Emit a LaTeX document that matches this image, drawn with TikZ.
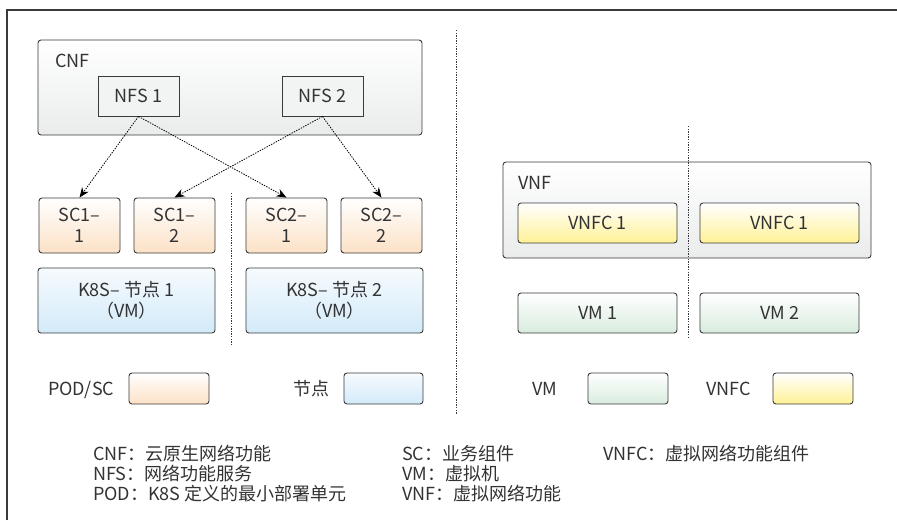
\documentclass[tikz,border=0pt]{standalone}
\usepackage{fontspec}
\setmainfont{Noto Sans CJK SC}
\usetikzlibrary{arrows.meta}
\definecolor{ink}{HTML}{333333}
\definecolor{edge}{HTML}{3A3A3A}
\definecolor{grayb}{HTML}{EAECEC}
\definecolor{peach}{HTML}{FCE1C6}
\definecolor{sky}{HTML}{D3EAF9}
\definecolor{lemon}{HTML}{FFF195}
\definecolor{mint}{HTML}{D8ECDE}
\tikzset{
  box/.style={draw=edge, line width=0.9pt, rounded corners=3pt, inner sep=0pt,
    align=center, text=ink, font=\fontsize{18}{21}\selectfont},
  grp/.style={box, top color=white, bottom color=grayb},
  inner/.style={box, fill=grayb!60, rounded corners=0pt},
  pod/.style={box, top color=white, bottom color=peach},
  host/.style={box, top color=white!80!sky, bottom color=sky},
  vnfc/.style={box, top color=white, bottom color=lemon},
  vmb/.style={box, top color=white, bottom color=mint},
  lbl/.style={anchor=base west, inner sep=0pt, text=ink, font=\fontsize{18}{21}\selectfont},
  sep/.style={draw=edge, line width=0.8pt, dash pattern=on 1.4pt off 1.2pt},
  link/.style={draw=black, line width=0.8pt, dash pattern=on 1.4pt off 1.2pt,
    -{Stealth[length=10pt,width=8pt]}},
}
\begin{document}
\begin{tikzpicture}[x=1pt,y=-1pt]
\useasboundingbox (0,0) rectangle (897,520);
% frame
\coordinate (f0) at (7,520);
\coordinate (f1) at (7,10);
\coordinate (f2) at (897,10);
\draw[edge, line width=1.2pt] (f0) -- (f1) -- (f2);
% separators
\coordinate (s1a) at (456,30); \coordinate (s1b) at (456,414);
\coordinate (s2a) at (231,193); \coordinate (s2b) at (231,346);
\coordinate (s3a) at (688,126); \coordinate (s3b) at (688,338);
% CNF side
\node[grp, minimum width=384pt, minimum height=95pt] (cnf) at (230,87.5) {};
\node[lbl] (cnfl) at (55,67) {CNF};
\node[inner, minimum width=81pt, minimum height=40pt] (nfs1) at (138.5,96) {NFS 1};
\node[inner, minimum width=81pt, minimum height=40pt] (nfs2) at (322.5,96) {NFS 2};
\node[pod, minimum width=81pt, minimum height=55pt] (sc11) at (79.5,225.5) {SC1–\\1};
\node[pod, minimum width=81pt, minimum height=55pt] (sc12) at (174.5,225.5) {SC1–\\2};
\node[pod, minimum width=81pt, minimum height=55pt] (sc21) at (286.5,225.5) {SC2–\\1};
\node[pod, minimum width=81pt, minimum height=55pt] (sc22) at (381.5,225.5) {SC2–\\2};
\node[host, minimum width=177pt, minimum height=65pt] (k1) at (126.5,300.5) {K8S– 节点 1\\（VM）};
\node[host, minimum width=177pt, minimum height=65pt] (k2) at (334.5,300.5) {K8S– 节点 2\\（VM）};
\draw[sep] (s2a) -- (s2b);
\path[link] (nfs1.south) -- (sc11.north);
\path[link] (nfs1.south) -- (sc21.north);
\path[link] (nfs2.south) -- (sc12.north);
\path[link] (nfs2.south) -- (sc22.north);
% legend left
\node[lbl] (l1) at (48,395) {POD/SC};
\node[pod, minimum width=80pt, minimum height=31pt] (lb1) at (169,388.5) {};
\node[lbl] (l2) at (293,395) {节点};
\node[host, minimum width=79pt, minimum height=31pt] (lb2) at (383.5,388.5) {};
% VNF side
\node[grp, minimum width=368pt, minimum height=96pt] (vnf) at (687,210) {};
\node[lbl] (vnfl) at (518,189) {VNF};
\node[vnfc, minimum width=159pt, minimum height=40pt] (c1) at (597.5,223) {VNFC 1};
\node[vnfc, minimum width=159pt, minimum height=40pt] (c2) at (779.5,223) {VNFC 1};
\node[vmb, minimum width=159pt, minimum height=40pt] (vm1) at (597.5,313) {VM 1};
\node[vmb, minimum width=159pt, minimum height=40pt] (vm2) at (779.5,313) {VM 2};
\draw[sep] (s3a) -- (s3b);
\node[lbl] (l3) at (532,395) {VM};
\node[vmb, minimum width=80pt, minimum height=31pt] (lb3) at (628,388.5) {};
\node[lbl] (l4) at (706,395) {VNFC};
\node[vnfc, minimum width=80pt, minimum height=31pt] (lb4) at (813,388.5) {};
\draw[sep] (s1a) -- (s1b);
% footnotes
\node[lbl] (n1) at (93,460) {CNF：云原生网络功能};
\node[lbl] (n2) at (93,480) {NFS：网络功能服务};
\node[lbl] (n3) at (93,500) {POD：K8S 定义的最小部署单元};
\node[lbl] (n4) at (402,460) {SC：业务组件};
\node[lbl] (n5) at (402,480) {VM：虚拟机};
\node[lbl] (n6) at (402,500) {VNF：虚拟网络功能};
\node[lbl] (n7) at (603,460) {VNFC：虚拟网络功能组件};
\end{tikzpicture}
\end{document}
